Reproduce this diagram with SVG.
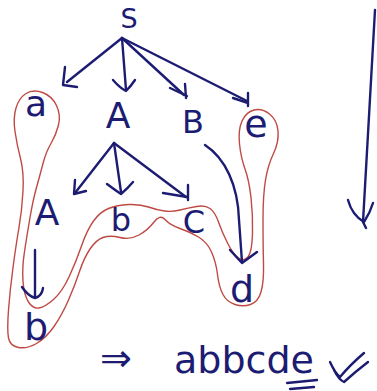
<svg xmlns="http://www.w3.org/2000/svg" width="377" height="391" viewBox="0 0 377 391">
  <style>
    .ink { fill: none; stroke: #1c1c72; stroke-width: 2.4; stroke-linecap: round; stroke-linejoin: round; }
    .lbl { font-family: "DejaVu Sans", "Liberation Sans", sans-serif; fill: #1c1c72; text-anchor: middle; }
    .loop { fill: none; stroke: #bf4a44; stroke-width: 1.4; stroke-linejoin: round; }
  </style>
  <rect width="377" height="391" fill="#ffffff"/>

  <!-- red boundary around the frontier leaves -->
  <g id="frontier">
    <path class="loop" d="M26,93.5 Q33,89 42.5,92.5 Q52,96 56.5,105.5 Q61,115 58.5,125 Q56,135 51,143.5 Q46,152 43,163.5 Q40,175 36.5,187.5 Q33,200 30,217.5 Q27,235 24.5,251.5 Q22,268 23,281.5 Q24,295 28.5,302 Q33,309 39,308 Q45,307 53.5,299.5 Q62,292 69,277 Q76,262 81.5,246 Q87,230 93.5,221 Q100,212 108.5,208.5 Q117,205 128.5,204.5 Q140,204 148.5,207 Q157,210 164.5,211 Q172,212 180,210 Q188,208 196.5,206.5 Q205,205 210,208.5 Q215,212 218.5,222 Q222,232 227.5,243 Q233,254 238.5,258 Q244,262 248,257 Q252,252 252.5,233.5 Q253,215 251,197.5 Q249,180 245,169 Q241,158 239.5,144 Q238,130 242,121 Q246,112 254,110 Q262,108 269.5,114 Q277,120 278,131 Q279,142 273.5,153.5 Q268,165 265.5,180 Q263,195 263,220 Q263,245 263.5,263.5 Q264,282 261,292 Q258,302 250.5,304.5 Q243,307 235,304.5 Q227,302 223,294.5 Q219,287 217.5,274.5 Q216,262 211.5,252 Q207,242 198.5,237 Q190,232 180,228.5 Q170,225 165,219.5 Q160,214 154,222 Q148,230 139,235 Q130,240 120,237.5 Q110,235 103,237.5 Q96,240 90,249 Q84,258 79.5,271.5 Q75,285 68.5,300 Q62,315 54,326.5 Q46,338 36.5,343.5 Q27,349 18.5,347.5 Q10,346 8.5,338 Q7,330 8.5,310 Q10,290 13,267.5 Q16,245 19,227.5 Q22,210 23,191 Q24,172 20.5,158.5 Q17,145 15,131.5 Q13,118 16,108 Q19,98 26,93.5 Z"/>
  </g>

  <!-- derivation edges -->
  <g id="connectors">
    <!-- S children -->
    <path class="ink" d="M122,38 L67,82"/>
    <path class="ink" d="M65,67 L63,85 L77,87"/>
    <path class="ink" d="M122,38 L126,90"/>
    <path class="ink" d="M113,80 Q120,88 126,91 Q131,86 135,80"/>
    <path class="ink" d="M122,38 L184,95"/>
    <path class="ink" d="M170,88 L187,96 M185,84 L186,98"/>
    <path class="ink" d="M122,38 L247,101"/>
    <path class="ink" d="M233,98 L248,103 M248,93 L248,106"/>
    <!-- A children -->
    <path class="ink" d="M114,143 L75,193"/>
    <path class="ink" d="M75,180 L74,194 L86,191"/>
    <path class="ink" d="M114,143 L121,192"/>
    <path class="ink" d="M107,184 Q115,190 121,194 Q128,188 133,182"/>
    <path class="ink" d="M114,143 L186,197"/>
    <path class="ink" d="M163,193 L187,197 M188,185 L188,200"/>
    <!-- B to d -->
    <path class="ink" d="M205,145 C225,158 238,185 239,220 L242,262"/>
    <path class="ink" d="M230,250 L242,263 L257,252"/>
    <!-- A to b -->
    <path class="ink" d="M35,250 L35,297"/>
    <path class="ink" d="M22,287 Q28,296 35,298 Q42,296 43,288"/>
    <!-- top-down direction arrow -->
    <path class="ink" d="M375,10 L363,222 L366,228"/>
    <path class="ink" d="M348,200 Q352,215 364,222 Q370,213 373,203"/>
  </g>

  <g id="n-S"><text class="lbl" x="129" y="28" font-size="27">S</text></g>
  <g id="n-a"><text class="lbl" x="36" y="116" font-size="36">a</text></g>
  <g id="n-A"><text class="lbl" x="118" y="128" font-size="36">A</text></g>
  <g id="n-B"><text class="lbl" x="193" y="133" font-size="32">B</text></g>
  <g id="n-e"><text class="lbl" x="256" y="137" font-size="38">e</text></g>
  <g id="n-A2"><text class="lbl" x="47" y="225" font-size="36">A</text></g>
  <g id="n-b1"><text class="lbl" x="121" y="231" font-size="32">b</text></g>
  <g id="n-C"><text class="lbl" x="194" y="233" font-size="32">C</text></g>
  <g id="n-b2"><text class="lbl" x="36" y="340" font-size="38">b</text></g>
  <g id="n-d"><text class="lbl" x="242" y="302" font-size="38">d</text></g>

  <!-- resulting sentence -->
  <g id="result">
    <text class="lbl" x="116" y="371" font-size="38">⇒</text>
    <text class="lbl" x="244" y="373" font-size="38">abbcde</text>
    <path class="ink" d="M287,383 L317,380 M290,389 L314,387"/>
    <path class="ink" d="M330,362 Q335,373 340,377 Q350,365 364,353 M334,370 Q339,380 344,382 Q355,372 368,362"/>
  </g>
</svg>
